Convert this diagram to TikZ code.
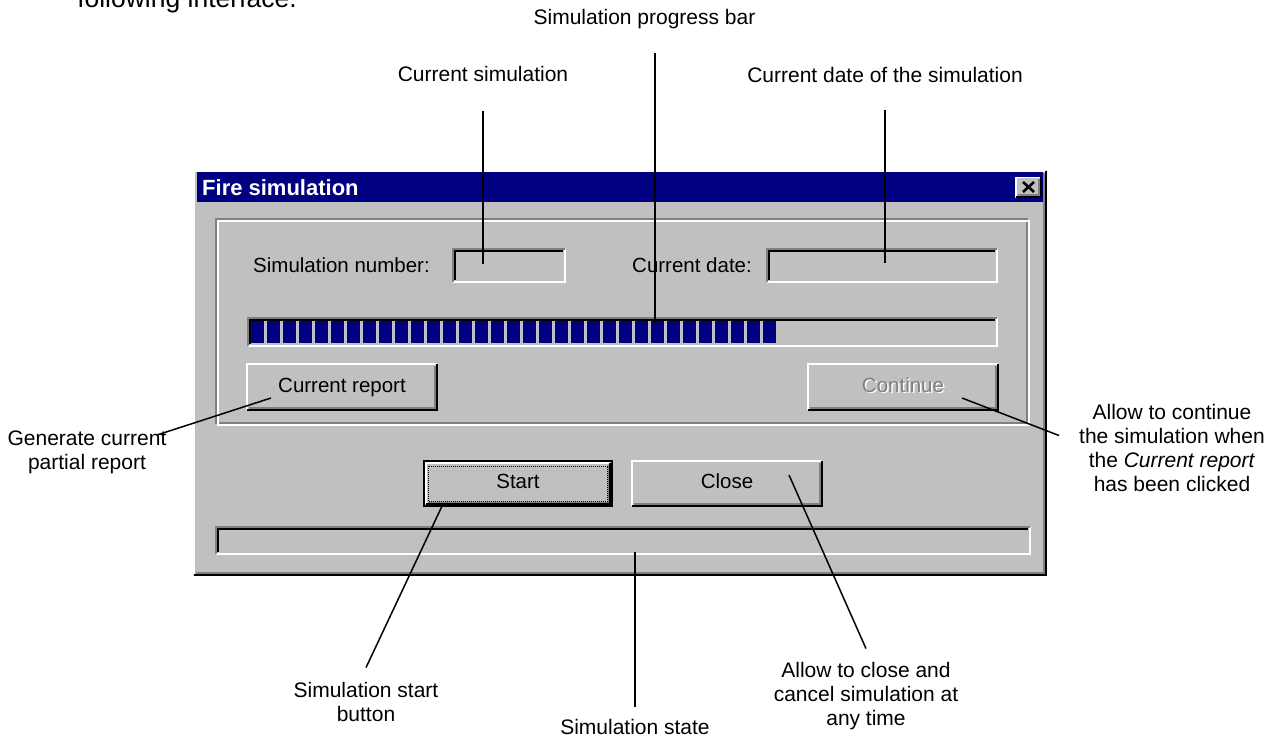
\documentclass[tikz,border=0pt]{standalone}
\usepackage{fontspec}
\setmainfont{Liberation Sans}
\usetikzlibrary{calc, positioning}
\newcommand{\edgeW}{1.8pt}
\newcommand{\edgeA}{0.9pt}
\newcommand{\edgeB}{2.7pt}
\newcommand{\blockPitch}{16}
\newcommand{\blockWidth}{13}
\newcommand{\blockCount}{32}
\newcommand{\lineWidth}{1.5pt}
\newcommand{\uiFont}{\fontsize{20.5}{24}\selectfont}
\newcommand{\noteFont}{\fontsize{21}{24}\selectfont}
\definecolor{lineColor}{RGB}{0,0,0}
\definecolor{faceGray}{RGB}{192,192,192}
\definecolor{shadowGray}{RGB}{128,128,128}
\definecolor{titleBlue}{RGB}{0,0,128}
\tikzstyle{panel}=[draw=none, inner sep=0, outer sep=0, fill=faceGray]
\tikzstyle{button}=[panel, font=\uiFont, text height=14pt, text depth=4pt]
\tikzstyle{btnText}=[inner sep=0, font=\uiFont, text height=14pt, text depth=4pt]
\tikzstyle{field}=[panel]
\tikzstyle{uiText}=[inner sep=0, font=\uiFont, anchor=base west]
\tikzstyle{note}=[inner sep=0, font=\noteFont, align=center, anchor=base]
\tikzstyle{line}=[draw=lineColor, line width=\lineWidth]
\tikzstyle{edgeLight}=[draw=white, line width=\edgeW]
\tikzstyle{edgeDark}=[draw=black, line width=\edgeW]
\tikzstyle{edgeShadow}=[draw=shadowGray, line width=\edgeW]
\newcommand{\raisedEdges}[1]{%
  \draw[edgeLight] ([xshift=\edgeA, yshift=\edgeA]#1.south west) |- ([xshift=-\edgeA, yshift=-\edgeA]#1.north east);
  \draw[edgeShadow] ([xshift=\edgeB, yshift=\edgeB]#1.south west) -| ([xshift=-\edgeB, yshift=-\edgeB]#1.north east);
  \draw[edgeDark] ([xshift=\edgeA, yshift=\edgeA]#1.south west) -| ([xshift=-\edgeA, yshift=-\edgeA]#1.north east);
}
\newcommand{\sunkenEdges}[1]{%
  \draw[edgeLight] ([xshift=\edgeA, yshift=\edgeA]#1.south west) -| ([xshift=-\edgeA, yshift=-\edgeA]#1.north east);
  \draw[edgeShadow] ([xshift=\edgeA, yshift=\edgeA]#1.south west) |- ([xshift=-\edgeA, yshift=-\edgeA]#1.north east);
  \draw[edgeDark] ([xshift=\edgeB, yshift=\edgeB]#1.south west) |- ([xshift=-\edgeB, yshift=-\edgeB]#1.north east);
}
\newcommand{\etchedEdges}[1]{%
  \draw[edgeShadow] ([xshift=\edgeA, yshift=-\edgeA]#1.north west) rectangle ([xshift=-\edgeB, yshift=\edgeB]#1.south east);
  \draw[edgeLight] ([xshift=\edgeB, yshift=-\edgeB]#1.north west) rectangle ([xshift=-\edgeA, yshift=\edgeA]#1.south east);
}
\begin{document}
\begin{tikzpicture}[x=1pt, y=-1pt]

\useasboundingbox (0,0) rectangle (1278,737);

% Window
\node[panel, minimum width=854pt, minimum height=406pt] (dialog) at (620,373) {};
\raisedEdges{dialog}
\node[panel, fill=titleBlue, minimum width=846pt, minimum height=30pt] (titleBar) at (620,187) {};
\node[inner sep=0, anchor=base west, text=white, font=\bfseries\fontsize{22}{24}\selectfont] (titleText) at (202,195) {Fire simulation};
\node[panel, minimum width=27pt, minimum height=21pt] (closeBox) at (1028.5,187) {};
\raisedEdges{closeBox}
\draw[line width=2.6pt] ($(closeBox.center)+(-5.5,-5)$) -- ($(closeBox.center)+(5.5,5)$);
\draw[line width=2.6pt] ($(closeBox.center)+(-5.5,5)$) -- ($(closeBox.center)+(5.5,-5)$);

% Group box
\node[panel, minimum width=815pt, minimum height=208pt] (groupBox) at (622.5,322) {};
\etchedEdges{groupBox}

% Fields
\node[uiText] (numLabel) at (253,272) {Simulation number:};
\node[field, minimum width=114pt, minimum height=35pt] (numField) at (509,265.5) {};
\sunkenEdges{numField}
\node[uiText] (dateLabel) at (632,272) {Current date:};
\node[field, minimum width=232pt, minimum height=35pt] (dateField) at (882,265.5) {};
\sunkenEdges{dateField}

% Progress bar
\node[field, minimum width=751pt, minimum height=30pt] (progressBar) at (622.5,332) {};
\sunkenEdges{progressBar}
\foreach \i in {0,...,\blockCount} {
  \fill[titleBlue] ($(progressBar.west)+(4+\i*\blockPitch,-11)$) rectangle ++(\blockWidth,22);
  }

% Buttons
\node[button, minimum width=192pt, minimum height=48pt] (reportBtn) at (342,387) {Current report};
\raisedEdges{reportBtn}
\node[panel, minimum width=192pt, minimum height=48pt] (continueBtn) at (903,387) {};
\raisedEdges{continueBtn}
\node[btnText, text=white] (continueShade) at ([xshift=1.5pt, yshift=-1.5pt]continueBtn.center) {Continue};
\node[btnText, text=shadowGray] (continueText) at (continueBtn.center) {Continue};

\node[button, minimum width=186.4pt, minimum height=43.4pt] (startBtn) at (518,483.5) {Start};
\raisedEdges{startBtn}
\draw[edgeDark] ([xshift=-\edgeA, yshift=\edgeA]startBtn.north west) rectangle ([xshift=\edgeA, yshift=-\edgeA]startBtn.south east);
\draw[line width=1pt, dash pattern=on 1pt off 1pt] ([xshift=3.8pt, yshift=-4.2pt]startBtn.north west) rectangle ([xshift=-3.8pt, yshift=3.5pt]startBtn.south east);
\node[button, minimum width=192pt, minimum height=47pt] (closeBtn) at (727,483.5) {Close};
\raisedEdges{closeBtn}

% Status bar
\node[field, minimum width=816pt, minimum height=29pt] (statusBar) at (623,540.5) {};
\sunkenEdges{statusBar}

% Notes (base = baseline of the last line)
\node[note, font=\fontsize{26.5}{30}\selectfont] (lblIntro) at (187,7) {following interface.};
\node[note] (lblBar) at (644.5,24) {Simulation progress bar};
\node[note] (lblSim) at (483,81) {Current simulation};
\node[note] (lblDate) at (885,82) {Current date of the simulation};
\node[note] (lblReport) at (87,469) {Generate current\\partial report};
\node[note] (lblContinue) at (1172,491) {Allow to continue\\the simulation when\\the \textit{Current report}\\has been clicked};
\node[note] (lblStart) at (366,721) {Simulation start\\button};
\node[note] (lblClose) at (866,725) {Allow to close and\\cancel simulation at\\any time};
\node[note] (lblState) at (635,734) {Simulation state};

% Pointed spots
\coordinate (simTip) at (483,264);
\coordinate (barTip) at (655,323);
\coordinate (dateTip) at (885,263);
\coordinate (reportTip) at (271,398);
\coordinate (continueTip) at (962,398);
\coordinate (startTip) at (443,504);
\coordinate (closeTip) at (789,475);
\coordinate (stateTip) at (635,552);

% Connectors
\draw[line] ([yshift=-30pt]lblSim.south) -- (simTip);
\draw[line] ($(lblBar.south -| barTip)+(0,24)$) -- (barTip);
\draw[line] ([yshift=-28pt]lblDate.south) -- (dateTip);
\draw[line] ($(lblReport.north east)+(-10,5)$) -- (reportTip);
\draw[line] ($(lblContinue.west)+(-20,-12)$) -- (continueTip);
\draw[line] ([yshift=14pt]lblStart.north) -- (startTip);
\draw[line] ([yshift=13pt]lblClose.north) -- (closeTip);
\draw[line] ([yshift=12pt]lblState.north) -- (stateTip);

\end{tikzpicture}
\end{document}
